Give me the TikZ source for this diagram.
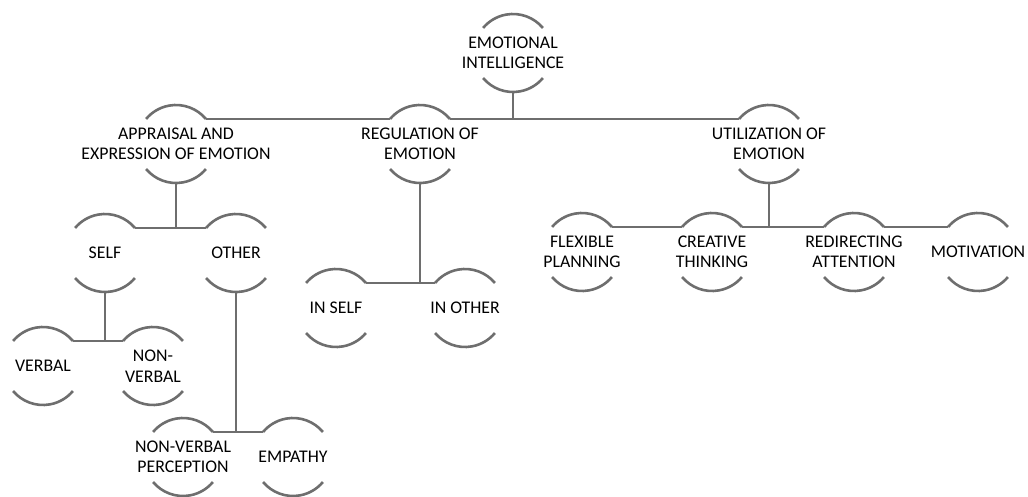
\documentclass[tikz,border=0pt]{standalone}
\usepackage{fontspec}
\setmainfont{Carlito}
\definecolor{lngray}{RGB}{110,110,110}
\tikzset{
  bub/.style={circle, minimum size=78pt, inner sep=0pt, outer sep=0pt,
    label={[txt]center:{#1}}},
  txt/.style={align=center, inner sep=0pt, text=black,
    font=\fontsize{17.8pt}{20.5pt}\selectfont},
  arcline/.style={draw=lngray, line width=2.6pt},
  conn/.style={draw=lngray, line width=2.7pt}
}
\begin{document}
\begin{tikzpicture}[x=1pt,y=1pt]
\useasboundingbox (0,0) rectangle (1028,496);
% nodes
\node[bub={EMOTIONAL\\INTELLIGENCE}] (root) at (513,443) {};
\node[bub={APPRAISAL AND\\EXPRESSION OF EMOTION}] (app) at (176,352) {};
\node[bub={REGULATION OF\\EMOTION}] (reg) at (420,352) {};
\node[bub={UTILIZATION OF\\EMOTION}] (uti) at (769,352) {};
\node[bub={SELF}] (self) at (105,243) {};
\node[bub={OTHER}] (other) at (236,243) {};
\node[bub={IN SELF}] (inself) at (336,188) {};
\node[bub={IN OTHER}] (inother) at (465,188) {};
\node[bub={FLEXIBLE\\PLANNING}] (flex) at (582,244) {};
\node[bub={CREATIVE\\THINKING}] (creat) at (712,244) {};
\node[bub={REDIRECTING\\ATTENTION}] (redir) at (854,244) {};
\node[bub={MOTIVATION}] (motiv) at (978,244) {};
\node[bub={VERBAL}] (verbal) at (43,130) {};
\node[bub={NON-\\VERBAL}] (nonverbal) at (153,130) {};
\node[bub={NON-VERBAL\\PERCEPTION}] (nvp) at (183,39) {};
\node[bub={EMPATHY}] (empathy) at (293,39) {};
% arcs
\foreach \n in {root,app,reg,uti,self,other,inself,inother,flex,creat,redir,motiv,verbal,nonverbal,nvp,empathy}{
  \draw[arcline] (\n.40) arc[start angle=40,end angle=140,radius=39pt];
  \draw[arcline] (\n.220) arc[start angle=220,end angle=320,radius=39pt];
}
% connectors
\draw[conn] (root.south) -- (root.south |- app.40);
\draw[conn] (app.40) -- (reg.140);
\draw[conn] (reg.40) -- (uti.140);
\draw[conn] (app.south) -- (app.south |- self.40);
\draw[conn] (self.40) -- (other.140);
\draw[conn] (self.south) -- (self.south |- verbal.40);
\draw[conn] (verbal.40) -- (nonverbal.140);
\draw[conn] (other.south) -- (other.south |- nvp.40);
\draw[conn] (nvp.40) -- (empathy.140);
\draw[conn] (reg.south) -- (reg.south |- inself.40);
\draw[conn] (inself.40) -- (inother.140);
\draw[conn] (uti.south) -- (uti.south |- flex.40);
\draw[conn] (flex.40) -- (creat.140);
\draw[conn] (creat.40) -- (redir.140);
\draw[conn] (redir.40) -- (motiv.140);
\end{tikzpicture}
\end{document}
